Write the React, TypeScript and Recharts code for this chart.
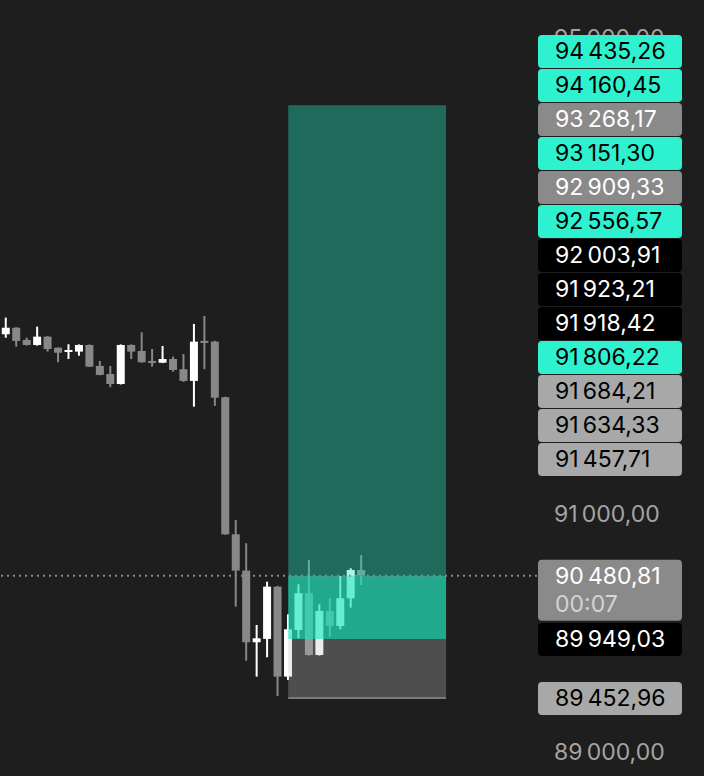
import React from 'react';
import { ComposedChart, Bar, XAxis, YAxis, ReferenceArea, ReferenceLine } from 'recharts';

const BG = '#1e1e1e';
const BULL = '#ffffff';
const BEAR = '#888888';
const TEAL = '#24e6be';
const AQUA = '#2ef2cf';
const FONT = 'Inter, "Noto Sans", sans-serif';

// candles, oldest first
const OPEN = [
  92510, 92565, 92462, 92420, 92490, 92397, 92364, 92364, 92420, 92244,
  92176, 92092, 92420, 92370, 92286, 92271, 92302, 92216, 92118, 92454,
  92448, 91981, 90829, 90524, 89922, 89950, 90389, 89633, 90025, 90334,
  89815, 90185, 90059, 90292, 90529,
];
const HIGH = [
  92650, 92570, 92481, 92574, 92495, 92400, 92426, 92425, 92425, 92286,
  92244, 92425, 92425, 92527, 92386, 92412, 92322, 92344, 92597, 92664,
  92455, 91985, 90950, 90754, 90067, 90431, 90395, 90157, 90409, 90613,
  90241, 90292, 90479, 90544, 90655,
];
const LOW = [
  92481, 92406, 92415, 92414, 92364, 92275, 92302, 92330, 92235, 92165,
  92065, 92088, 92302, 92270, 92238, 92268, 92196, 92110, 91902, 92216,
  91908, 90825, 90221, 89767, 89633, 89796, 89471, 89605, 89955, 89810,
  89810, 89969, 90031, 90213, 90403,
];
const CLOSE = [
  92565, 92454, 92420, 92490, 92386, 92355, 92378, 92420, 92238, 92168,
  92092, 92420, 92364, 92275, 92271, 92302, 92210, 92118, 92448, 92439,
  91977, 90829, 90524, 89922, 89955, 90389, 89633, 90031, 90334, 89815,
  90185, 90059, 90292, 90529, 90480.81,
];

// long position tool
const ENTRY = 89949.03;
const TARGET = 94435.26;
const STOP = 89452.96;
const LAST = 90480.81;
const LAST_TIME = '00:07';
const POS_FROM = 27;
const POS_TO = 42.1;

// price labels stacked on the scale
const STACK_VALUES = [
  94435.26, 94160.45, 93268.17, 93151.3, 92909.33, 92556.57, 92003.91,
  91923.21, 91918.42, 91806.22, 91684.21, 91634.33, 91457.71,
];
const STACK_KINDS = [
  'aqua', 'aqua', 'gray', 'aqua', 'gray', 'aqua', 'black',
  'black', 'black', 'aqua', 'light', 'light', 'light',
];
// only the scale ticks that are not hidden behind labels
const PRICE_TICKS = [89000, 91000, 95000];

const TAG_STYLE: Record<string, { bg: string; fg: string }> = {
  aqua: { bg: AQUA, fg: '#000000' },
  gray: { bg: '#8a8a8a', fg: '#ffffff' },
  light: { bg: '#a8a8a8', fg: '#000000' },
  black: { bg: '#000000', fg: '#ffffff' },
};

const candles = OPEN.map((open, i) => ({
  i,
  open,
  high: HIGH[i],
  low: LOW[i],
  close: CLOSE[i],
}));

function fmt(v: number): string {
  const [int, dec] = v.toFixed(2).split('.');
  return `${int.replace(/\B(?=(\d{3})+(?!\d))/g, '\u2009')},${dec}`;
}

function Candle(props: any) {
  const { x, y, width, height, payload } = props;
  if (x == null || y == null || !payload) return null;
  const { open, close, high, low } = payload;
  const h = Math.abs(height);
  const top = height < 0 ? y + height : y;
  const k = high === low ? 0 : h / (high - low);
  const bodyTop = top + (high - Math.max(open, close)) * k;
  const bodyH = Math.max(2, Math.abs(open - close) * k);
  const color = close >= open ? BULL : BEAR;
  const cx = x + width / 2;
  return (
    <g>
      <rect x={cx - 1} y={top} width={2} height={h} fill={color} />
      <rect x={x} y={bodyTop} width={width} height={bodyH} fill={color} />
    </g>
  );
}

function PriceTick({ x, y, payload }: any) {
  if (x == null || y == null || !payload) return null;
  return (
    <text x={x} y={y} dy="0.36em" fill="#a4a4a4" fontSize={23} fontFamily={FONT} textAnchor="start">
      {fmt(payload.value)}
    </text>
  );
}

function tag(value: number, kind: string, sub?: string) {
  return (props: any) => {
    const vb = props.viewBox;
    if (!vb) return null;
    const st = TAG_STYLE[kind];
    const left = vb.x + vb.width + 1;
    const h = sub ? 61 : 33;
    return (
      <g>
        <rect x={left} y={vb.y - 16} width={144} height={h} rx={4} fill={st.bg} />
        <text x={left + 17} y={vb.y} dy="0.36em" fill={st.fg} fontSize={23} fontFamily={FONT}>
          {fmt(value)}
        </text>
        {sub && (
          <text x={left + 17} y={vb.y + 28} dy="0.36em" fill="#d4d4d4" fontSize={23} fontFamily={FONT}>
            {sub}
          </text>
        )}
      </g>
    );
  };
}

export default function App() {
  return (
    <div
      style={{
        position: 'absolute',
        left: 0,
        top: 0,
        width: 704,
        height: 776,
        background: BG,
        overflow: 'hidden',
      }}
    >
      <ComposedChart width={704} height={776} data={candles} margin={{ top: 0, right: 0, bottom: 0, left: 0 }}>
        <XAxis type="number" dataKey="i" domain={[-0.574, 50.8]} allowDataOverflow hide />
        <YAxis
          orientation="right"
          domain={[88798, 95319]}
          allowDataOverflow
          ticks={PRICE_TICKS}
          width={167}
          axisLine={false}
          tickLine={false}
          tickSize={0}
          tickMargin={17}
          tick={<PriceTick />}
        />
        <Bar
          dataKey={(d: any) => [d.low, d.high]}
          shape={<Candle />}
          barSize={8}
          isAnimationActive={false}
        />
        <ReferenceArea x1={POS_FROM} x2={POS_TO} y1={LAST} y2={TARGET} fill={TEAL} fillOpacity={0.385} stroke="none" zIndex={350} />
        <ReferenceArea x1={POS_FROM} x2={POS_TO} y1={ENTRY} y2={LAST} fill={TEAL} fillOpacity={0.695} stroke="none" zIndex={350} />
        <ReferenceArea x1={POS_FROM} x2={POS_TO} y1={STOP} y2={ENTRY} fill="#c1c1c1" fillOpacity={0.3} stroke="none" zIndex={350} />
        <ReferenceLine
          segment={[{ x: POS_FROM, y: STOP }, { x: POS_TO, y: STOP }]}
          stroke="#7a7a7a"
          strokeWidth={2}
          zIndex={360}
        />
        <ReferenceLine y={LAST} stroke="#8a8a8a" strokeWidth={2} strokeDasharray="2 4" zIndex={360} label={tag(LAST, 'gray', LAST_TIME)} />
        <ReferenceLine y={ENTRY} stroke="none" zIndex={360} label={tag(ENTRY, 'black')} />
        <ReferenceLine y={STOP} stroke="none" zIndex={360} label={tag(STOP, 'light')} />
      </ComposedChart>
      <div
        style={{
          position: 'absolute',
          left: 538,
          top: 35,
          width: 144,
          display: 'flex',
          flexDirection: 'column',
          gap: 1,
        }}
      >
        {STACK_VALUES.map((v, i) => {
          const st = TAG_STYLE[STACK_KINDS[i]];
          return (
            <div
              key={i}
              style={{
                height: 33,
                lineHeight: '33px',
                background: st.bg,
                color: st.fg,
                borderRadius: 4,
                paddingLeft: 17,
                fontFamily: FONT,
                fontSize: 23,
                boxSizing: 'border-box',
              }}
            >
              {fmt(v)}
            </div>
          );
        })}
      </div>
    </div>
  );
}
